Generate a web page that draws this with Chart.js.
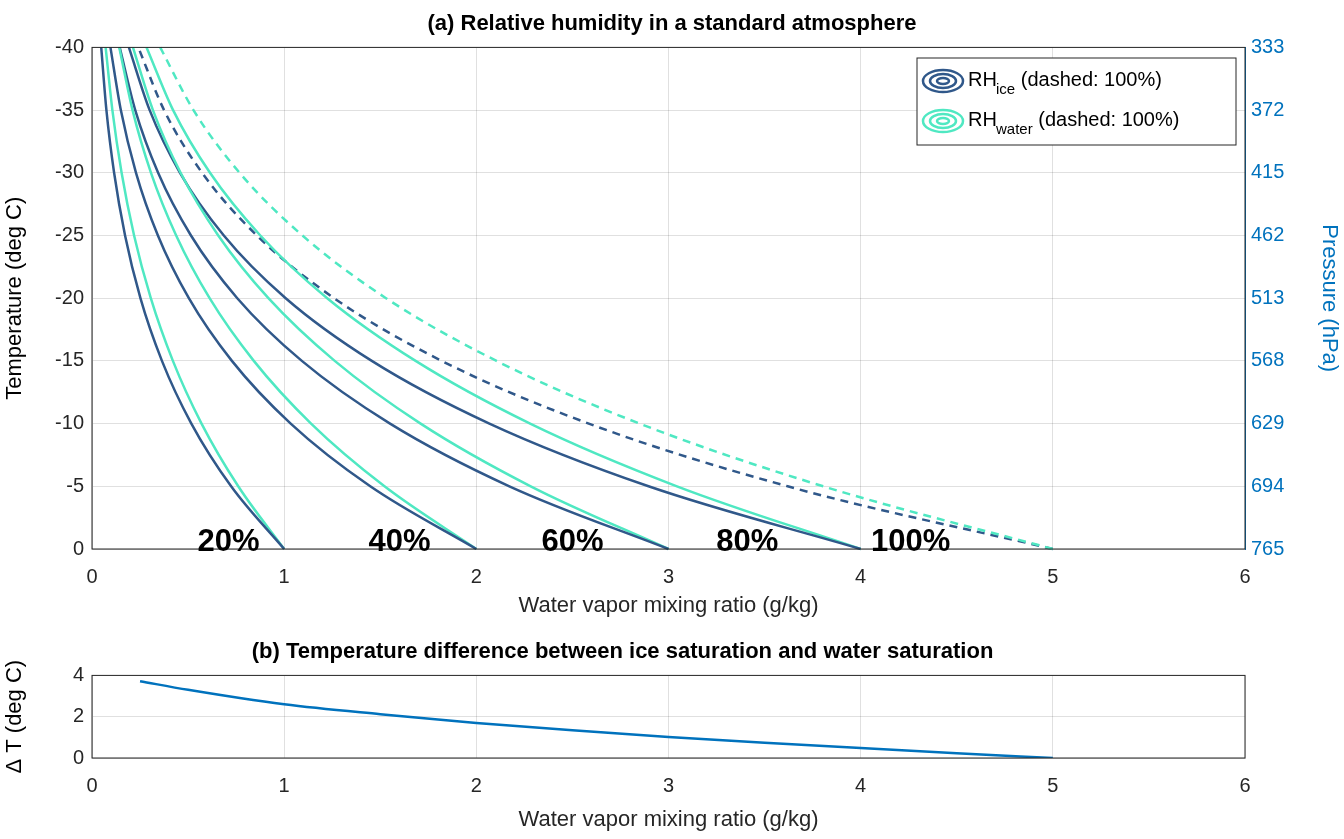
<!DOCTYPE html>
<html><head><meta charset="utf-8">
<script src="https://cdn.jsdelivr.net/npm/chart.js@4"></script>
<style>
body{margin:0;background:#fff}
#top{position:absolute;left:0;top:0;width:1344px;height:625px}
#bot{position:absolute;left:0;top:625px;width:1344px;height:214px}
</style></head><body>
<div id="top"><canvas id="c1"></canvas></div>
<div id="bot"><canvas id="c2"></canvas></div>
<script>
// temperature levels (deg C) and curve values (g/kg)
const temps = [0, -5, -10, -15, -20, -25, -30, -35, -40];
const pressureTicks = {'-40':'333','-35':'372','-30':'415','-25':'462','-20':'513','-15':'568','-10':'629','-5':'694','0':'765'};
const ice20 = [1, 0.724, 0.517, 0.364, 0.252, 0.172, 0.115, 0.075, 0.048];
const ice40 = [2, 1.448, 1.034, 0.728, 0.504, 0.343, 0.229, 0.150, 0.096];
const ice60 = [3, 2.172, 1.551, 1.092, 0.756, 0.515, 0.344, 0.225, 0.144];
const ice80 = [4, 2.896, 2.068, 1.456, 1.008, 0.686, 0.458, 0.300, 0.192];
const ice100 = [5, 3.62, 2.585, 1.82, 1.26, 0.858, 0.573, 0.375, 0.241];
const water20 = [1, 0.761, 0.570, 0.421, 0.306, 0.219, 0.154, 0.106, 0.071];
const water40 = [2, 1.522, 1.14, 0.842, 0.612, 0.438, 0.307, 0.211, 0.142];
const water60 = [3, 2.283, 1.71, 1.263, 0.918, 0.657, 0.461, 0.317, 0.213];
const water80 = [4, 3.044, 2.28, 1.684, 1.224, 0.876, 0.614, 0.422, 0.284];
const water100 = [5, 3.805, 2.85, 2.105, 1.53, 1.095, 0.768, 0.528, 0.355];
const rhLabels = ['20%', '40%', '60%', '80%', '100%'];
const rhLabelX = [0.71, 1.6, 2.5, 3.41, 4.26];
// panel (b)
const dtX = [0.25, 0.5, 1, 1.5, 2, 2.5, 3, 3.5, 4, 4.5, 5];
const dtY = [3.72, 3.3, 2.6, 2.12, 1.7, 1.34, 1.02, 0.74, 0.48, 0.23, 0.0];

const ICE = '#30588a', WATER = '#4fe8c2', BLUE = '#0072bd';
const FONT = 'Liberation Sans, Arial, sans-serif';
Chart.defaults.font.family = FONT;
Chart.defaults.color = '#262626';

function line(vals, color, dashed) {
  return {
    data: vals.map((v, i) => ({x: v, y: temps[i]})),
    borderColor: color, borderWidth: 2.5, pointRadius: 0,
    cubicInterpolationMode: 'monotone', borderDash: dashed ? [8, 6] : [], clip: 3
  };
}

const boxPlugin = {
  id: 'box',
  afterDraw(chart, args, opts) {
    const {ctx, chartArea: a} = chart;
    ctx.save();
    ctx.strokeStyle = '#262626'; ctx.lineWidth = 1;
    ctx.strokeRect(a.left, a.top, a.right - a.left, a.bottom - a.top);
    if (opts.labels) {
      const xs = chart.scales.x, ys = chart.scales.y;
      ctx.fillStyle = '#000'; ctx.font = 'bold 31px ' + FONT;
      ctx.textAlign = 'center'; ctx.textBaseline = 'alphabetic';
      rhLabels.forEach((t, i) => ctx.fillText(t, xs.getPixelForValue(rhLabelX[i]), ys.getPixelForValue(0) + 2));
      // legend
      ctx.fillStyle = '#fff'; ctx.fillRect(917, 58, 319, 87);
      ctx.strokeStyle = '#262626'; ctx.strokeRect(917, 58, 319, 87);
      [[ICE, 'ice', 81], [WATER, 'water', 121]].forEach(([c, sub, y]) => {
        ctx.strokeStyle = c; ctx.lineWidth = 2.5;
        [[20, 11], [13, 7], [6, 3]].forEach(([rx, ry]) => {
          ctx.beginPath(); ctx.ellipse(943, y, rx, ry, 0, 0, Math.PI * 2); ctx.stroke();
        });
        ctx.fillStyle = '#000'; ctx.textAlign = 'left';
        ctx.font = '20px ' + FONT; ctx.fillText('RH', 968, y + 5);
        ctx.font = '15px ' + FONT; ctx.fillText(sub, 996, y + 13);
        const w = ctx.measureText(sub).width;
        ctx.font = '20px ' + FONT; ctx.fillText(' (dashed: 100%)', 996 + w, y + 5);
      });
    }
    ctx.restore();
  }
};

const grid = {color: 'rgba(0,0,0,0.12)', drawTicks: false};
const tickFont = {size: 20};

new Chart(document.getElementById('c1'), {
  type: 'line',
  data: {datasets: [
    line(ice20, ICE), line(water20, WATER), line(ice40, ICE), line(water40, WATER),
    line(ice60, ICE), line(water60, WATER), line(ice80, ICE), line(water80, WATER),
    line(water100, WATER, true), line(ice100, ICE, true)
  ]},
  options: {
    responsive: true, maintainAspectRatio: false, animation: false,
    layout: {padding: {top: 0, left: 0, right: 0, bottom: 4}},
    plugins: {
      legend: {display: false}, tooltip: {enabled: false},
      title: {display: true, text: '(a) Relative humidity in a standard atmosphere',
        font: {size: 22, weight: 'bold'}, color: '#000', padding: {top: 11, bottom: 10}},
      box: {labels: true}
    },
    scales: {
      x: {type: 'linear', min: 0, max: 6, grid,
        ticks: {stepSize: 1, font: tickFont, padding: 16},
        title: {display: true, text: 'Water vapor mixing ratio (g/kg)', font: {size: 22}, padding: 2},
        afterFit(s) { s.height = 72; }},
      y: {type: 'linear', reverse: true, min: -40, max: 0, grid,
        ticks: {stepSize: 5, font: tickFont, padding: 8},
        title: {display: true, text: 'Temperature (deg C)', font: {size: 22}, color: '#000', padding: 2},
        afterFit(s) { s.width = 92; }},
      y2: {type: 'linear', position: 'right', reverse: true, min: -40, max: 0,
        grid: {display: false, drawTicks: false}, border: {color: BLUE},
        ticks: {stepSize: 5, font: tickFont, color: BLUE, padding: 6,
          callback: v => pressureTicks[String(v)]},
        title: {display: true, text: 'Pressure (hPa)', font: {size: 22}, color: BLUE, padding: 2},
        afterFit(s) { s.width = 99; }}
    }
  },
  plugins: [boxPlugin]
});

new Chart(document.getElementById('c2'), {
  type: 'line',
  data: {datasets: [{
    data: dtX.map((x, i) => ({x, y: dtY[i]})),
    borderColor: BLUE, borderWidth: 2.5, pointRadius: 0, cubicInterpolationMode: 'monotone'
  }]},
  options: {
    responsive: true, maintainAspectRatio: false, animation: false,
    layout: {padding: {right: 99, bottom: 4}},
    plugins: {
      legend: {display: false}, tooltip: {enabled: false},
      title: {display: true, text: '(b) Temperature difference between ice saturation and water saturation',
        font: {size: 22, weight: 'bold'}, color: '#000', padding: {top: 14, bottom: 10}},
      box: {labels: false}
    },
    scales: {
      x: {type: 'linear', min: 0, max: 6, grid,
        ticks: {stepSize: 1, font: tickFont, padding: 16},
        title: {display: true, text: 'Water vapor mixing ratio (g/kg)', font: {size: 22}, padding: 2},
        afterFit(s) { s.height = 77; }},
      y: {type: 'linear', min: 0, max: 4, grid,
        ticks: {stepSize: 2, font: tickFont, padding: 8},
        title: {display: true, text: 'Δ T (deg C)', font: {size: 22}, color: '#000', padding: 2},
        afterFit(s) { s.width = 92; }}
    }
  },
  plugins: [boxPlugin]
});
</script>
</body></html>
